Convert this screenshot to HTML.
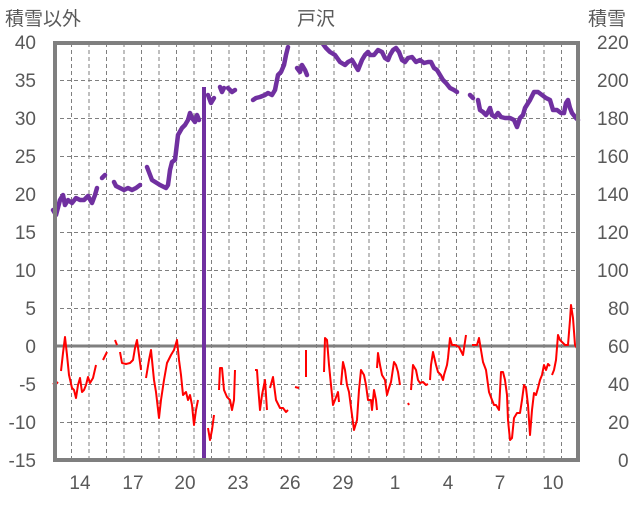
<!DOCTYPE html>
<html><head><meta charset="utf-8"><style>
html,body{margin:0;padding:0;background:#fff;}
svg text{font-family:"Liberation Sans","Noto Sans CJK JP",sans-serif;fill:#595959;}
</style></head><body>
<svg width="636" height="501" xmlns="http://www.w3.org/2000/svg">
<rect width="636" height="501" fill="#fff"/>
<g stroke="#7f7f7f" stroke-width="1" stroke-dasharray="4,3">
<line x1="71.5" y1="43" x2="71.5" y2="460"/><line x1="89" y1="43" x2="89" y2="460"/><line x1="106.5" y1="43" x2="106.5" y2="460"/><line x1="124" y1="43" x2="124" y2="460"/><line x1="141.5" y1="43" x2="141.5" y2="460"/><line x1="159" y1="43" x2="159" y2="460"/><line x1="176.5" y1="43" x2="176.5" y2="460"/><line x1="194" y1="43" x2="194" y2="460"/><line x1="211.5" y1="43" x2="211.5" y2="460"/><line x1="229" y1="43" x2="229" y2="460"/><line x1="246.5" y1="43" x2="246.5" y2="460"/><line x1="264" y1="43" x2="264" y2="460"/><line x1="281.5" y1="43" x2="281.5" y2="460"/><line x1="299" y1="43" x2="299" y2="460"/><line x1="316.5" y1="43" x2="316.5" y2="460"/><line x1="334" y1="43" x2="334" y2="460"/><line x1="351.5" y1="43" x2="351.5" y2="460"/><line x1="369" y1="43" x2="369" y2="460"/><line x1="386.5" y1="43" x2="386.5" y2="460"/><line x1="404" y1="43" x2="404" y2="460"/><line x1="421.5" y1="43" x2="421.5" y2="460"/><line x1="439" y1="43" x2="439" y2="460"/><line x1="456.5" y1="43" x2="456.5" y2="460"/><line x1="474" y1="43" x2="474" y2="460"/><line x1="491.5" y1="43" x2="491.5" y2="460"/><line x1="509" y1="43" x2="509" y2="460"/><line x1="526.5" y1="43" x2="526.5" y2="460"/><line x1="544" y1="43" x2="544" y2="460"/><line x1="561.5" y1="43" x2="561.5" y2="460"/>
<line x1="53" y1="80.5" x2="579" y2="80.5"/><line x1="53" y1="118.5" x2="579" y2="118.5"/><line x1="53" y1="156.5" x2="579" y2="156.5"/><line x1="53" y1="194.5" x2="579" y2="194.5"/><line x1="53" y1="232.5" x2="579" y2="232.5"/><line x1="53" y1="270.5" x2="579" y2="270.5"/><line x1="53" y1="308.5" x2="579" y2="308.5"/><line x1="53" y1="384.5" x2="579" y2="384.5"/><line x1="53" y1="422.5" x2="579" y2="422.5"/>
</g>
<line x1="53" y1="346" x2="579" y2="346" stroke="#7f7f7f" stroke-width="3"/>
<g fill="none" stroke="#ff0000" stroke-width="2" stroke-linejoin="round">
<polyline points="53,383 55,385 58,382"/>
<polyline points="61,371 63,353 65,337 67,355 69,375 72,388 74,390 76,398 78,385 80,378 82,392 84,390 86,385 88,377 90,383 93,378 96,365"/>
<polyline points="103,360 107,352"/><polyline points="115,340 117,345"/>
<polyline points="120,352 122,363 126,364 130,363 133,360 135,348 137,340 139,355 141,370"/>
<polyline points="146,378 149,360 151,350 154,380 156,392 159,418 161,400 164,380 167,363 171,355 174,350 177,340 179,360 181,375 183,395 186,392 188,400 190,395 192,405 194,425 196,410 198,400"/>
<polyline points="208,428 210,440 212,430 214,415"/>
<polyline points="219,390 220,368 222,368 224,390 227,397 230,400 232,410 234,400 235,370"/>
<polyline points="255,370 257,370 258,385 260,410 262,395 265,380 267,410"/>
<polyline points="270,388 273,377 276,400 280,408 283,408 286,412 288,410"/>
<polyline points="295,387 299,388"/><polyline points="306,350 306,377"/>
<polyline points="324,372 325,338 327,340 329,365 331,385 333,405 335,400 338,392 339,402"/>
<polyline points="341,385 343,362 345,370 347,385 349,392 352,415 354,430 357,420 359,390 361,370 364,375 366,385 368,400 371,400 372,410 374,390 376,400 377,410"/>
<polyline points="377,368 378,353 380,365 382,375 385,380 387,395 389,388 391,382 394,362 396,365 398,372 400,385"/>
<polyline points="408,403 409,405"/>
<polyline points="411,390 413,365 416,370 418,380 420,383 423,382 426,385 428,384"/>
<polyline points="430,380 431,365 433,352 436,365 438,372 441,375 443,380 444,375 447,365 448,358 450,338 452,345 455,345 459,347 463,355 466,335"/>
<polyline points="472,345 477,345 479,338 481,350 483,362 486,370 489,392 492,400 494,405 496,405 499,410 501,372 503,372 505,380 507,395 508,420 510,440 512,438 514,418 517,413 520,413 522,400 524,385 526,388 528,405 530,435 532,410 534,393 536,395 538,388 540,380 542,375 544,365 546,370 548,364 550,366"/>
<polyline points="552,375 554,370 556,360 558,335 560,340 563,343 565,345 568,345 570,320 571,305 573,318 575,345 578,350"/>
</g>
<g fill="none" stroke="#7030a0" stroke-width="4.5" stroke-linejoin="round" stroke-linecap="round">
<polyline points="53,210 56,215 60,200 63,195 65,205 68,200 72,203 76,198 80,200 84,200 88,196 92,203 95,195 97,188"/>
<polyline points="102,178 105,175"/>
<polyline points="114,182 116,186 120,188 124,190 128,188 132,190 136,188 140,185"/>
<polyline points="147,167 152,180 160,185 166,188 168,185 170,170 172,162 175,160 178,135 182,128 185,125 188,120 190,113 192,118 195,122 197,115 199,120"/>
<polyline points="208,95 211,103 214,98"/><polyline points="220,87 222,92 224,88"/><polyline points="228,88 232,92 235,90"/>
<polyline points="253,100 256,98 260,97 265,95 268,93 272,95 275,90 278,75 281,72 284,65 286,55 288,47"/>
<polyline points="297,68 300,72 302,65 305,70 307,75"/>
<polyline points="323,44 326,48 330,52 335,55 340,62 345,65 348,62 352,60 355,65 358,70 362,60 365,55 368,52 370,55 374,55 378,50 382,52 385,58 388,60 390,55 393,50 396,48 399,52 402,60 405,62 408,58 412,57 416,62 420,60 424,63 428,62 431,62 434,68 437,70 440,75 443,80 446,83 450,88 454,90 457,92"/>
<polyline points="470,95 473,98"/>
<polyline points="478,100 480,110 483,112 486,115 488,112 490,108 492,115 495,117 498,113 501,117 505,118 510,118 514,120 517,127 520,118 523,115 525,108 530,100 534,92 538,92 542,95 546,98 550,100 553,110 557,110 561,113 564,113 566,103 568,100 570,108 572,113 576,118 578,120"/>
</g>
<line x1="204" y1="87" x2="204" y2="460" stroke="#7030a0" stroke-width="4"/>
<rect x="55" y="43" width="523" height="417" fill="none" stroke="#7f7f7f" stroke-width="4"/>
<text x="316" y="25" font-size="19" text-anchor="middle">戸沢</text>
<text x="5" y="25" font-size="19">積雪以外</text>
<text x="588" y="25" font-size="19">積雪</text>
<g font-size="19" text-anchor="end">
<text x="36" y="49">40</text><text x="36" y="87">35</text><text x="36" y="125">30</text><text x="36" y="163">25</text><text x="36" y="201">20</text><text x="36" y="239">15</text><text x="36" y="277">10</text><text x="36" y="315">5</text><text x="36" y="353">0</text><text x="36" y="391">-5</text><text x="36" y="429">-10</text><text x="36" y="467">-15</text>
</g>
<g font-size="19" text-anchor="start">
<text x="597" y="49">220</text><text x="597" y="87">200</text><text x="597" y="125">180</text><text x="597" y="163">160</text><text x="597" y="201">140</text><text x="597" y="239">120</text><text x="597" y="277">100</text><text x="608" y="315">80</text><text x="608" y="353">60</text><text x="608" y="391">40</text><text x="608" y="429">20</text><text x="618" y="467">0</text>
</g>
<g font-size="19" text-anchor="middle">
<text x="80" y="489">14</text><text x="133" y="489">17</text><text x="185" y="489">20</text><text x="238" y="489">23</text><text x="290" y="489">26</text><text x="343" y="489">29</text><text x="395" y="489">1</text><text x="448" y="489">4</text><text x="500" y="489">7</text><text x="553" y="489">10</text>
</g>
</svg>
</body></html>
